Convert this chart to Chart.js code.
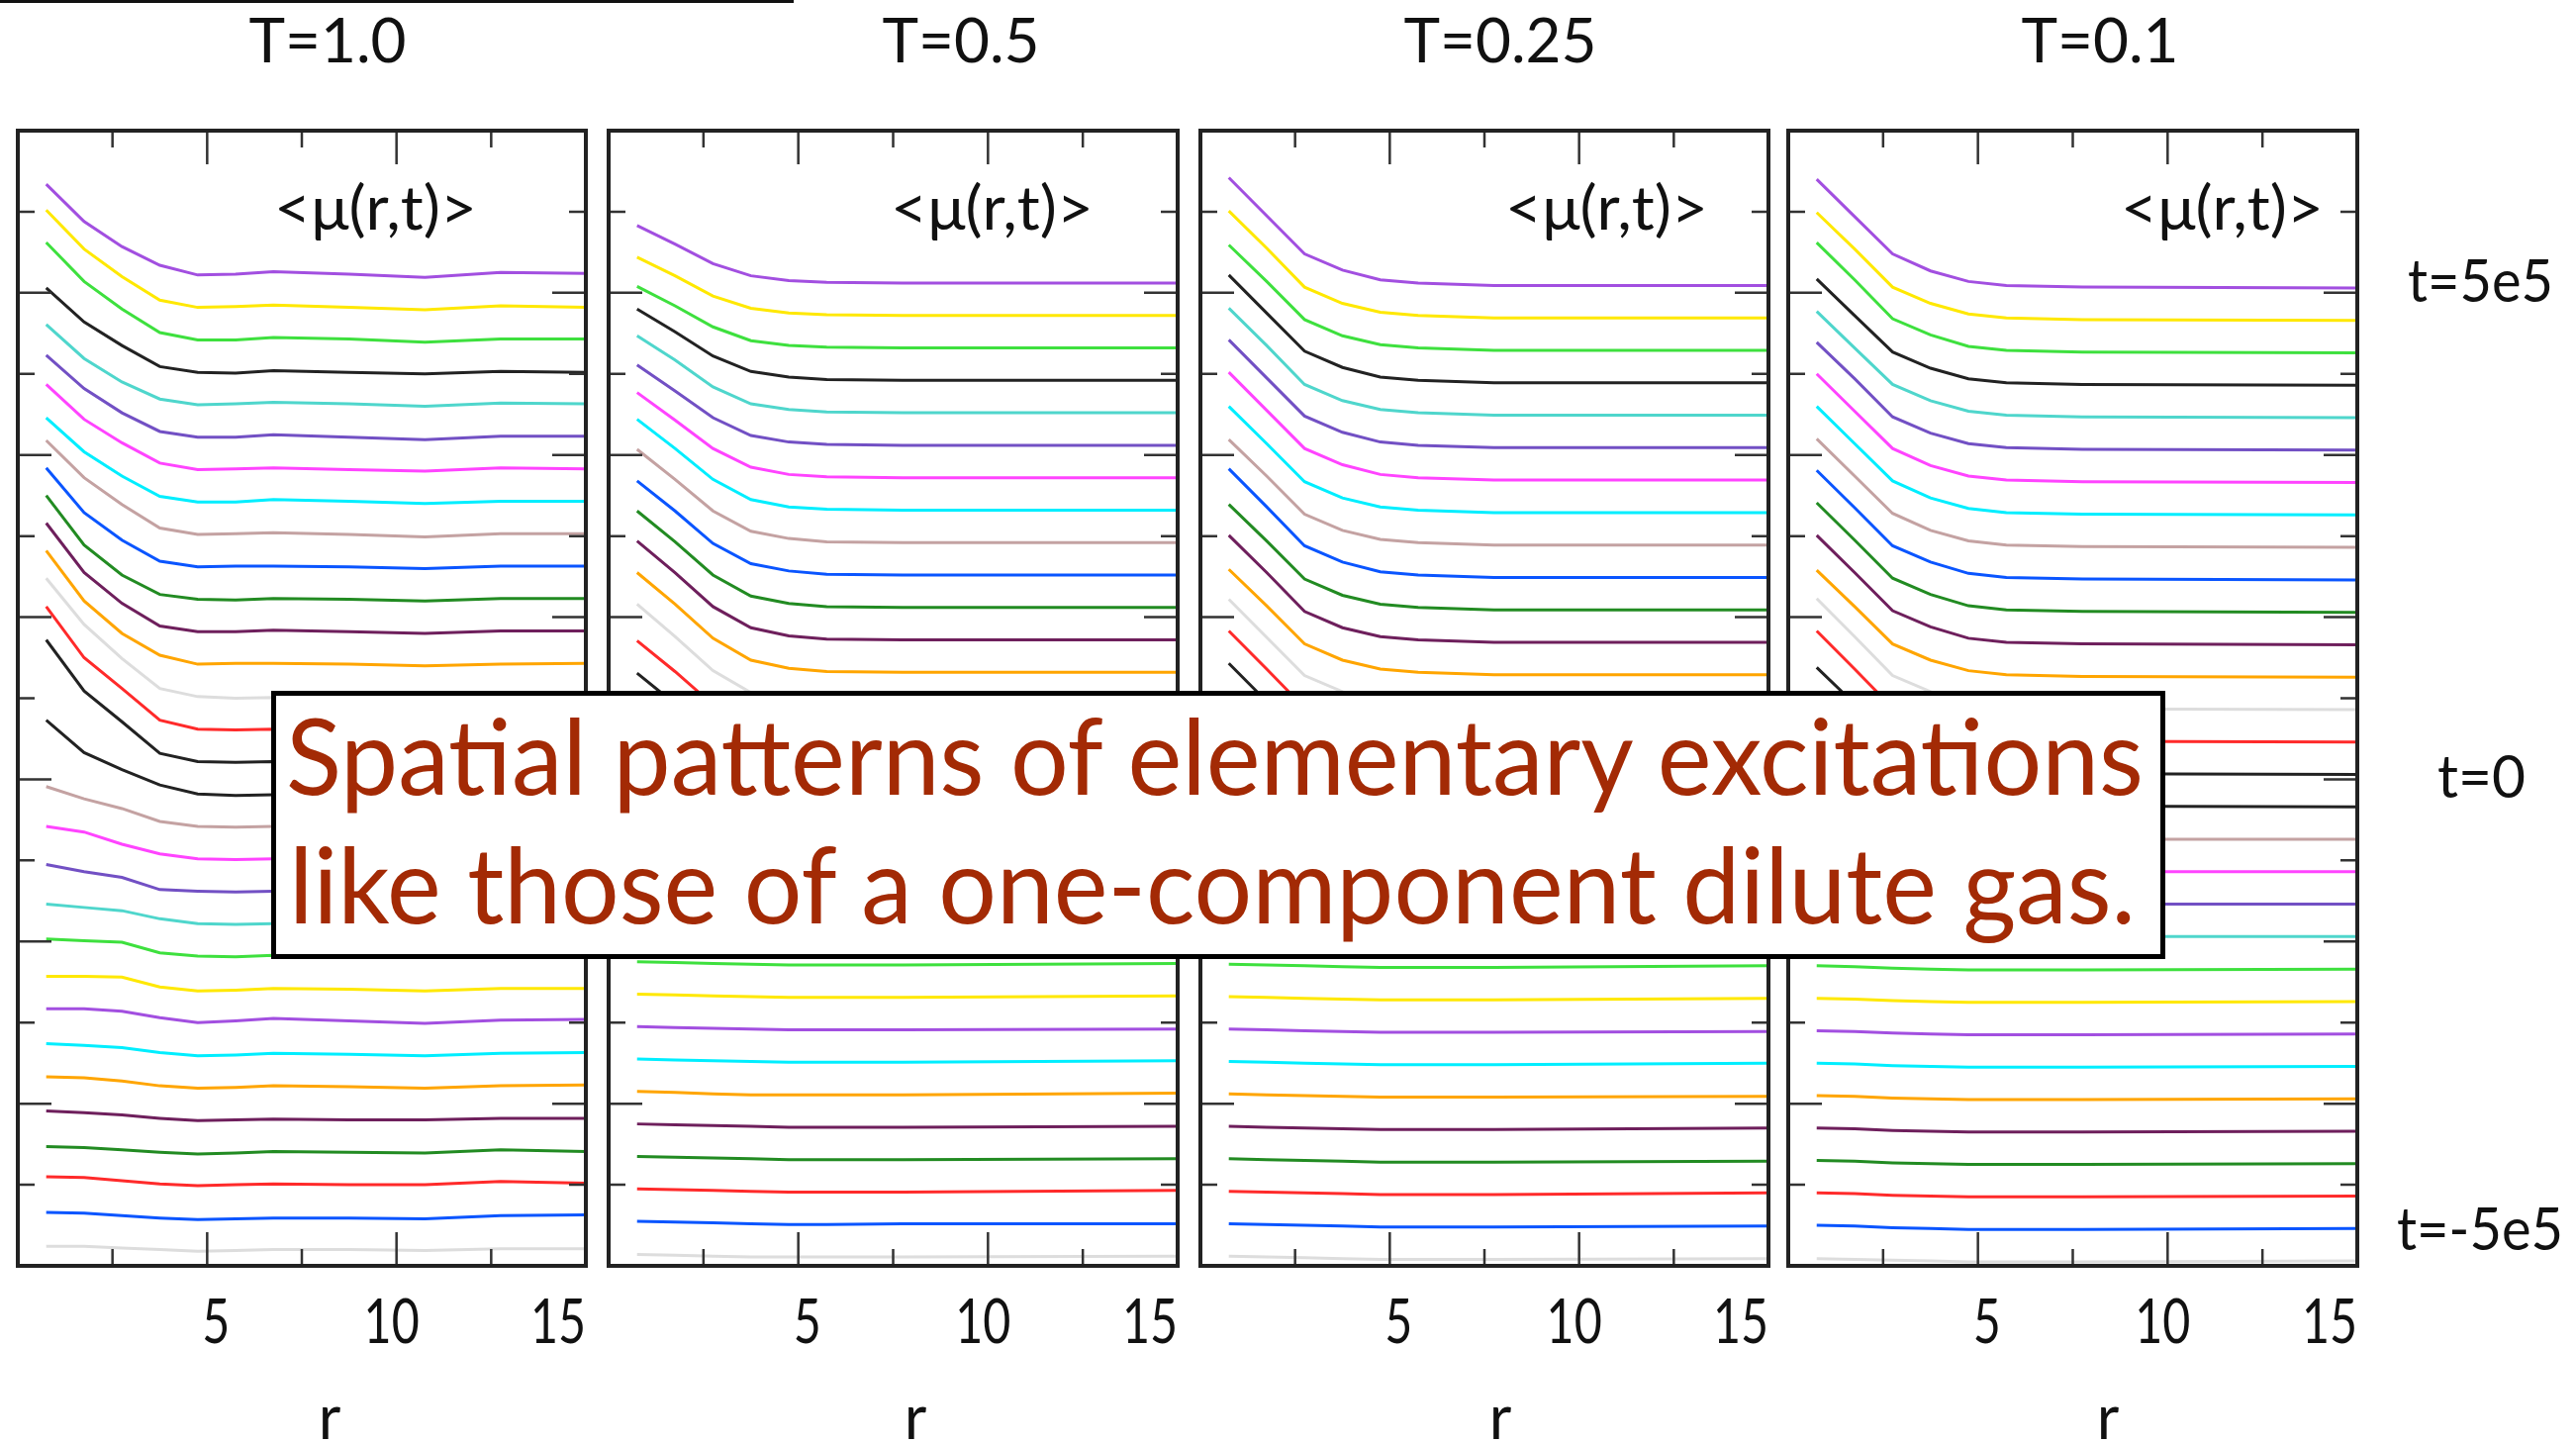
<!DOCTYPE html>
<html>
<head>
<meta charset="utf-8">
<script src="https://cdn.jsdelivr.net/npm/chart.js@4/dist/chart.umd.min.js"></script>
<style>
  html, body { margin: 0; padding: 0; background: #fff; }
  body { width: 2603px; height: 1458px; position: relative; overflow: hidden; font-family: Lato, "Open Sans", sans-serif; }
  canvas { position: absolute; z-index: 1; }
  .lbl { position: absolute; z-index: 3; white-space: nowrap; line-height: 1; color: #111; transform-origin: 0 0; }
  #note { position: absolute; z-index: 5; left: 274px; top: 698px; width: 1904px; height: 261px; border: 5px solid #000; background: #fff; }
  .note { color: #a32a05; z-index: 6; }
</style>
</head>
<body>
<div style="position:absolute;left:0;top:0;width:802px;height:3px;background:#111;"></div>
<div id="note"></div>

<script>
// r values where the profiles are sampled
const rGridT10 = [0.75, 1.75, 2.75, 3.75, 4.75, 5.75, 6.75, 8.75, 10.75, 12.75, 15];
const rGrid = [0.75, 1.75, 2.75, 3.75, 4.75, 5.75, 7.75, 15];

const temps = ['T=1.0', 'T=0.5', 'T=0.25', 'T=0.1'];
const xTickValues = [5, 10, 15];
const xTickLabels = ['5', '10', '15'];
const xMinorTicks = [2.5, 5, 7.5, 10, 12.5];
const yTicks = [10, 20, 30, 40, 50, 60, 70, 80, 90, 100, 110, 120, 130];
const timeLabels = ['t=5e5', 't=0', 't=-5e5'];

// one colour per time slice, top (t=5e5) to bottom (t=-5e5)
const lineColors = ['#a24fe0', '#ffe800', '#3ee03e', '#222222', '#4fd6cc', '#7250c4', '#ff44ff', '#00eeff',
  '#c4a2a2', '#0a55ff', '#228b22', '#6e1f5c', '#ffa500', '#dddddd', '#ff2a2a', '#222222',
  '#222222', '#c4a2a2', '#ff44ff', '#7250c4', '#4fd6cc', '#3ee03e', '#ffe800', '#a24fe0',
  '#00eeff', '#ffa500', '#6e1f5c', '#228b22', '#ff2a2a', '#0a55ff', '#dddddd'];

// <mu(r,t)> + offset, T=1.0
const muT10 = [
  [133.4, 128.8, 125.7, 123.4, 122.2, 122.3, 122.6, 122.3, 121.9, 122.5, 122.4],
  [130.2, 125.4, 122.0, 119.1, 118.2, 118.3, 118.5, 118.2, 117.9, 118.4, 118.2],
  [126.2, 121.4, 118.0, 115.1, 114.2, 114.2, 114.5, 114.3, 113.9, 114.3, 114.3],
  [120.6, 116.4, 113.5, 110.9, 110.2, 110.1, 110.4, 110.2, 110.0, 110.3, 110.2],
  [116.1, 111.9, 109.0, 106.9, 106.2, 106.3, 106.5, 106.3, 106.0, 106.4, 106.3],
  [112.3, 108.2, 105.2, 102.9, 102.2, 102.2, 102.5, 102.2, 101.9, 102.3, 102.3],
  [108.7, 104.4, 101.5, 99.0, 98.2, 98.3, 98.4, 98.2, 98.0, 98.4, 98.3],
  [104.6, 100.4, 97.4, 94.9, 94.2, 94.2, 94.5, 94.3, 94.0, 94.3, 94.3],
  [101.8, 97.2, 93.9, 91.0, 90.2, 90.3, 90.4, 90.2, 89.9, 90.3, 90.3],
  [98.4, 92.9, 89.5, 86.9, 86.2, 86.3, 86.3, 86.2, 86.0, 86.3, 86.3],
  [95.0, 88.9, 85.2, 82.8, 82.2, 82.1, 82.3, 82.2, 82.0, 82.3, 82.3],
  [91.6, 85.5, 81.7, 78.9, 78.2, 78.2, 78.4, 78.2, 78.0, 78.3, 78.3],
  [88.2, 82.0, 78.0, 75.3, 74.2, 74.3, 74.3, 74.2, 74.0, 74.2, 74.3],
  [84.8, 79.1, 74.9, 71.2, 70.2, 70.0, 70.1, 70.0, 70.0, 70.1, 70.2],
  [81.3, 75.0, 71.2, 67.3, 66.2, 66.1, 66.2, 66.1, 66.1, 66.2, 66.2],
  [77.2, 70.9, 67.1, 63.2, 62.2, 62.1, 62.2, 62.1, 62.1, 62.2, 62.2],
  [67.3, 63.3, 61.2, 59.3, 58.2, 58.0, 58.1, 58.1, 58.1, 58.2, 58.2],
  [59.1, 57.6, 56.4, 54.8, 54.2, 54.1, 54.2, 54.2, 54.1, 54.2, 54.2],
  [54.2, 53.5, 52.0, 50.8, 50.2, 50.1, 50.2, 50.2, 50.1, 50.2, 50.3],
  [49.5, 48.6, 47.9, 46.4, 46.2, 46.1, 46.2, 46.2, 46.1, 46.2, 46.2],
  [44.6, 44.2, 43.8, 42.8, 42.2, 42.1, 42.2, 42.2, 42.1, 42.2, 42.2],
  [40.3, 40.1, 39.9, 38.6, 38.2, 38.1, 38.3, 38.2, 38.1, 38.3, 38.3],
  [35.7, 35.7, 35.6, 34.4, 33.9, 34.0, 34.2, 34.1, 33.9, 34.2, 34.2],
  [31.7, 31.7, 31.4, 30.6, 30.0, 30.2, 30.5, 30.2, 29.9, 30.3, 30.4],
  [27.4, 27.2, 26.9, 26.3, 25.9, 26.0, 26.2, 26.1, 25.9, 26.2, 26.3],
  [23.3, 23.2, 22.8, 22.2, 21.9, 22.0, 22.2, 22.1, 21.9, 22.2, 22.3],
  [19.1, 18.9, 18.6, 18.2, 17.9, 18.0, 18.1, 18.0, 18.0, 18.2, 18.2],
  [14.7, 14.6, 14.3, 14.0, 13.8, 13.9, 14.1, 14.0, 13.9, 14.3, 14.1],
  [11.0, 10.9, 10.5, 10.1, 9.9, 10.0, 10.1, 10.0, 10.0, 10.4, 10.2],
  [6.6, 6.5, 6.2, 5.9, 5.7, 5.8, 5.9, 5.9, 5.8, 6.2, 6.3],
  [2.4, 2.4, 2.2, 2.0, 1.8, 1.9, 2.0, 2.0, 1.9, 2.1, 2.1]
];

// T=0.5
const muT05 = [
  [128.3, 126.0, 123.6, 122.1, 121.5, 121.3, 121.2, 121.2],
  [124.4, 122.1, 119.6, 118.1, 117.5, 117.3, 117.2, 117.2],
  [120.8, 118.4, 115.8, 114.1, 113.5, 113.3, 113.2, 113.2],
  [118.0, 115.2, 112.2, 110.3, 109.6, 109.3, 109.2, 109.2],
  [114.7, 111.7, 108.4, 106.3, 105.6, 105.3, 105.2, 105.2],
  [111.1, 107.9, 104.6, 102.4, 101.6, 101.3, 101.2, 101.2],
  [107.7, 104.3, 100.8, 98.5, 97.6, 97.3, 97.2, 97.2],
  [104.4, 100.8, 97.0, 94.5, 93.6, 93.3, 93.2, 93.2],
  [100.7, 97.0, 93.1, 90.6, 89.7, 89.3, 89.2, 89.2],
  [96.8, 93.1, 89.1, 86.6, 85.7, 85.3, 85.2, 85.2],
  [93.1, 89.3, 85.2, 82.6, 81.7, 81.3, 81.2, 81.2],
  [89.4, 85.5, 81.3, 78.7, 77.7, 77.3, 77.2, 77.2],
  [85.5, 81.6, 77.4, 74.7, 73.7, 73.3, 73.2, 73.2],
  [81.6, 77.6, 73.4, 70.7, 69.7, 69.3, 69.2, 69.2],
  [77.1, 73.3, 69.2, 66.6, 65.7, 65.3, 65.2, 65.2],
  [73.1, 69.3, 65.2, 62.6, 61.7, 61.3, 61.2, 61.2],
  [63.7, 61.6, 59.5, 58.0, 57.5, 57.3, 57.2, 57.2],
  [55.7, 55.0, 54.2, 53.6, 53.3, 53.2, 53.2, 53.2],
  [50.7, 50.3, 49.8, 49.5, 49.3, 49.2, 49.2, 49.2],
  [46.2, 45.9, 45.6, 45.4, 45.3, 45.2, 45.2, 45.2],
  [41.8, 41.6, 41.4, 41.3, 41.2, 41.2, 41.2, 41.2],
  [37.5, 37.4, 37.3, 37.2, 37.1, 37.1, 37.1, 37.3],
  [33.5, 33.4, 33.3, 33.2, 33.1, 33.1, 33.1, 33.3],
  [29.5, 29.4, 29.3, 29.2, 29.1, 29.1, 29.1, 29.2],
  [25.5, 25.4, 25.3, 25.2, 25.1, 25.1, 25.1, 25.3],
  [21.5, 21.4, 21.2, 21.1, 21.1, 21.1, 21.1, 21.3],
  [17.5, 17.4, 17.3, 17.2, 17.1, 17.1, 17.1, 17.2],
  [13.5, 13.4, 13.3, 13.2, 13.1, 13.1, 13.1, 13.2],
  [9.5, 9.4, 9.3, 9.2, 9.1, 9.1, 9.1, 9.3],
  [5.5, 5.4, 5.3, 5.2, 5.1, 5.1, 5.2, 5.2],
  [1.4, 1.3, 1.2, 1.1, 1.1, 1.1, 1.1, 1.2]
];

// T=0.25
const muT025 = [
  [134.2, 129.5, 124.8, 122.8, 121.6, 121.2, 120.9, 120.9],
  [130.1, 125.5, 120.7, 118.7, 117.6, 117.2, 116.9, 116.9],
  [125.9, 121.4, 116.7, 114.7, 113.6, 113.2, 112.9, 112.9],
  [122.2, 117.5, 112.8, 110.8, 109.6, 109.2, 108.9, 108.9],
  [118.1, 113.5, 108.7, 106.7, 105.6, 105.2, 104.9, 104.9],
  [114.2, 109.5, 104.8, 102.8, 101.6, 101.2, 100.9, 100.9],
  [110.2, 105.5, 100.8, 98.8, 97.6, 97.2, 96.9, 96.9],
  [106.0, 101.4, 96.7, 94.7, 93.6, 93.2, 92.9, 92.9],
  [101.9, 97.4, 92.7, 90.7, 89.6, 89.2, 88.9, 88.9],
  [98.3, 93.6, 88.8, 86.8, 85.6, 85.2, 84.9, 84.9],
  [93.9, 89.4, 84.7, 82.7, 81.6, 81.2, 80.9, 80.9],
  [90.1, 85.5, 80.7, 78.7, 77.6, 77.2, 76.9, 76.9],
  [85.9, 81.4, 76.7, 74.7, 73.6, 73.2, 72.9, 72.9],
  [82.2, 77.5, 72.8, 70.8, 69.6, 69.2, 68.9, 68.9],
  [78.3, 73.6, 68.8, 66.8, 65.6, 65.2, 64.9, 64.9],
  [74.3, 69.6, 64.8, 62.8, 61.6, 61.2, 60.9, 60.9],
  [63.9, 61.4, 58.9, 57.9, 57.3, 57.0, 56.9, 56.9],
  [55.4, 54.5, 53.6, 53.2, 53.0, 52.9, 52.9, 52.9],
  [50.4, 49.9, 49.3, 49.1, 49.0, 48.9, 48.9, 48.9],
  [45.9, 45.5, 45.2, 45.0, 44.9, 44.9, 44.9, 44.9],
  [41.5, 41.3, 41.1, 41.0, 40.9, 40.9, 40.9, 40.9],
  [37.2, 37.1, 37.0, 36.9, 36.8, 36.8, 36.8, 37.0],
  [33.2, 33.1, 33.0, 32.9, 32.8, 32.8, 32.8, 33.0],
  [29.2, 29.1, 29.0, 28.9, 28.8, 28.8, 28.8, 28.9],
  [25.2, 25.1, 25.0, 24.9, 24.8, 24.8, 24.8, 25.0],
  [21.2, 21.1, 21.0, 20.9, 20.8, 20.8, 20.8, 20.9],
  [17.2, 17.1, 17.0, 16.9, 16.8, 16.8, 16.8, 17.0],
  [13.2, 13.1, 13.0, 12.9, 12.8, 12.8, 12.8, 12.9],
  [9.2, 9.1, 9.0, 8.9, 8.8, 8.8, 8.8, 9.0],
  [5.2, 5.1, 5.0, 4.9, 4.8, 4.8, 4.8, 4.9],
  [1.2, 1.1, 1.0, 0.9, 0.8, 0.8, 0.8, 0.9]
];

// T=0.1
const muT01 = [
  [134.0, 129.4, 124.8, 122.7, 121.4, 120.9, 120.7, 120.6],
  [129.9, 125.4, 120.7, 118.7, 117.4, 116.9, 116.7, 116.6],
  [126.2, 121.6, 116.8, 114.8, 113.4, 112.9, 112.7, 112.6],
  [121.7, 117.2, 112.7, 110.7, 109.4, 108.9, 108.7, 108.6],
  [117.7, 113.2, 108.7, 106.7, 105.4, 104.9, 104.7, 104.6],
  [113.9, 109.4, 104.7, 102.7, 101.4, 100.9, 100.7, 100.6],
  [110.0, 105.4, 100.8, 98.7, 97.4, 96.9, 96.7, 96.6],
  [106.0, 101.4, 96.8, 94.7, 93.4, 92.9, 92.7, 92.6],
  [102.0, 97.4, 92.8, 90.7, 89.4, 88.9, 88.7, 88.6],
  [98.1, 93.5, 88.8, 86.8, 85.4, 84.9, 84.7, 84.6],
  [94.1, 89.5, 84.8, 82.8, 81.4, 80.9, 80.7, 80.6],
  [90.1, 85.5, 80.8, 78.8, 77.4, 76.9, 76.7, 76.6],
  [85.8, 81.3, 76.7, 74.7, 73.4, 72.9, 72.7, 72.6],
  [82.3, 77.6, 72.8, 70.8, 69.4, 68.9, 68.7, 68.6],
  [78.3, 73.6, 68.8, 66.8, 65.4, 64.9, 64.7, 64.6],
  [73.8, 69.3, 64.7, 62.7, 61.4, 60.9, 60.7, 60.6],
  [63.6, 61.2, 58.8, 57.7, 57.0, 56.8, 56.7, 56.6],
  [55.1, 54.3, 53.4, 53.0, 52.8, 52.7, 52.6, 52.6],
  [50.1, 49.6, 49.1, 48.8, 48.7, 48.6, 48.6, 48.6],
  [45.6, 45.3, 44.9, 44.7, 44.6, 44.6, 44.6, 44.6],
  [41.2, 41.0, 40.8, 40.7, 40.6, 40.6, 40.6, 40.6],
  [37.0, 36.9, 36.7, 36.6, 36.5, 36.5, 36.5, 36.6],
  [33.0, 32.9, 32.7, 32.6, 32.5, 32.5, 32.5, 32.6],
  [29.0, 28.9, 28.7, 28.6, 28.5, 28.5, 28.5, 28.6],
  [25.0, 24.9, 24.7, 24.6, 24.5, 24.5, 24.5, 24.6],
  [21.0, 20.9, 20.7, 20.6, 20.5, 20.5, 20.5, 20.6],
  [17.0, 16.9, 16.7, 16.6, 16.5, 16.5, 16.5, 16.6],
  [13.0, 12.9, 12.7, 12.6, 12.5, 12.5, 12.5, 12.6],
  [9.0, 8.9, 8.7, 8.6, 8.5, 8.5, 8.5, 8.6],
  [5.0, 4.9, 4.7, 4.6, 4.5, 4.5, 4.5, 4.6],
  [0.9, 0.8, 0.7, 0.6, 0.5, 0.5, 0.5, 0.6]
];

const panels = [
  { title: temps[0], rows: muT10, r: rGridT10, box: [18, 592], titleX: 331, rX: 333, muX: 277 },
  { title: temps[1], rows: muT05, r: rGrid, box: [615, 1190], titleX: 971, rX: 925, muX: 900 },
  { title: temps[2], rows: muT025, r: rGrid, box: [1213, 1787], titleX: 1516, rX: 1516, muX: 1521 },
  { title: temps[3], rows: muT01, r: rGrid, box: [1807, 2382], titleX: 2122, rX: 2130, muX: 2143 }
];

// inward ticks on all four sides, frame and x tick labels
const boxTicks = {
  id: 'boxTicks',
  afterDatasetsDraw(chart) {
    const { ctx, chartArea: a, scales: { x, y } } = chart;
    ctx.save();
    ctx.strokeStyle = '#333';
    ctx.lineWidth = 2.5;
    ctx.beginPath();
    xMinorTicks.forEach(v => {
      const px = x.getPixelForValue(v);
      const len = v % 5 === 0 ? 34 : 17;
      ctx.moveTo(px, a.bottom); ctx.lineTo(px, a.bottom - len);
      ctx.moveTo(px, a.top); ctx.lineTo(px, a.top + len);
    });
    yTicks.forEach(v => {
      const py = y.getPixelForValue(v);
      const len = v % 20 === 0 ? 34 : 17;
      ctx.moveTo(a.left, py); ctx.lineTo(a.left + len, py);
      ctx.moveTo(a.right, py); ctx.lineTo(a.right - len, py);
    });
    ctx.stroke();
    ctx.lineWidth = 4;
    ctx.strokeStyle = '#222';
    ctx.strokeRect(a.left, a.top, a.right - a.left, a.bottom - a.top);

    ctx.fillStyle = '#111';
    ctx.font = '62px Lato';
    const shift = [9, -5, 0];
    xTickValues.forEach((v, i) => {
      const px = x.getPixelForValue(v) + shift[i];
      ctx.save();
      ctx.translate(px, a.bottom + 78);
      ctx.scale(0.78, 1);
      ctx.textAlign = i === xTickValues.length - 1 ? 'right' : 'center';
      ctx.fillText(xTickLabels[i], 0, 0);
      ctx.restore();
    });
    ctx.restore();
  }
};

const labels = [];
function addLabel(text, x, baseline, size, align, width, cls) {
  const el = document.createElement('div');
  el.className = 'lbl' + (cls ? ' ' + cls : '');
  el.textContent = text;
  el.style.fontSize = size + 'px';
  el.style.top = (baseline - 0.887 * size) + 'px';
  document.body.appendChild(el);
  labels.push({ el, x, align, width });
}

panels.forEach(p => {
  const cv = document.createElement('canvas');
  const w = p.box[1] - p.box[0] + 40;
  cv.width = w;
  cv.height = 1358;
  cv.style.left = (p.box[0] - 20) + 'px';
  cv.style.top = '100px';
  document.body.appendChild(cv);

  new Chart(cv, {
    type: 'line',
    data: {
      datasets: p.rows.map((row, i) => ({
        data: row.map((v, k) => ({ x: p.r[k], y: v })),
        borderColor: lineColors[i],
        borderWidth: 3,
        pointRadius: 0,
        tension: 0,
        fill: false
      }))
    },
    options: {
      responsive: false,
      animation: false,
      devicePixelRatio: 1,
      layout: { padding: { left: 20, right: 20, top: 32, bottom: 179 } },
      plugins: { legend: { display: false }, tooltip: { enabled: false } },
      scales: {
        x: { type: 'linear', min: 0, max: 15, display: false },
        y: { type: 'linear', min: 0, max: 140, display: false }
      }
    },
    plugins: [boxTicks]
  });

  addLabel(p.title, p.titleX, 63, 62, 'center', null);
  addLabel('<\u03bc(r,t)>', p.muX, 232, 62, 'left', 205);
  addLabel('r', p.rX, 1454, 62, 'center', null);
});

addLabel(timeLabels[0], 2433, 305, 60, 'left', 147);
addLabel(timeLabels[1], 2463, 806, 60, 'left', 89);
addLabel(timeLabels[2], 2422, 1263, 60, 'left', 168);

addLabel('Spatial patterns of elementary excitations', 289, 803, 106, 'left', 1877, 'note');
addLabel('like those of a one-component dilute gas.', 292, 933, 106, 'left', 1866, 'note');

function placeLabels() {
  labels.forEach(l => {
    const natural = l.el.getBoundingClientRect().width;
    const s = l.width ? l.width / natural : 1;
    const w = natural * s;
    let left = l.x;
    if (l.align === 'center') left = l.x - w / 2;
    if (l.align === 'right') left = l.x - w;
    l.el.style.left = left + 'px';
    l.el.style.transform = 'scaleX(' + s + ')';
  });
}
placeLabels();
</script>
</body>
</html>
